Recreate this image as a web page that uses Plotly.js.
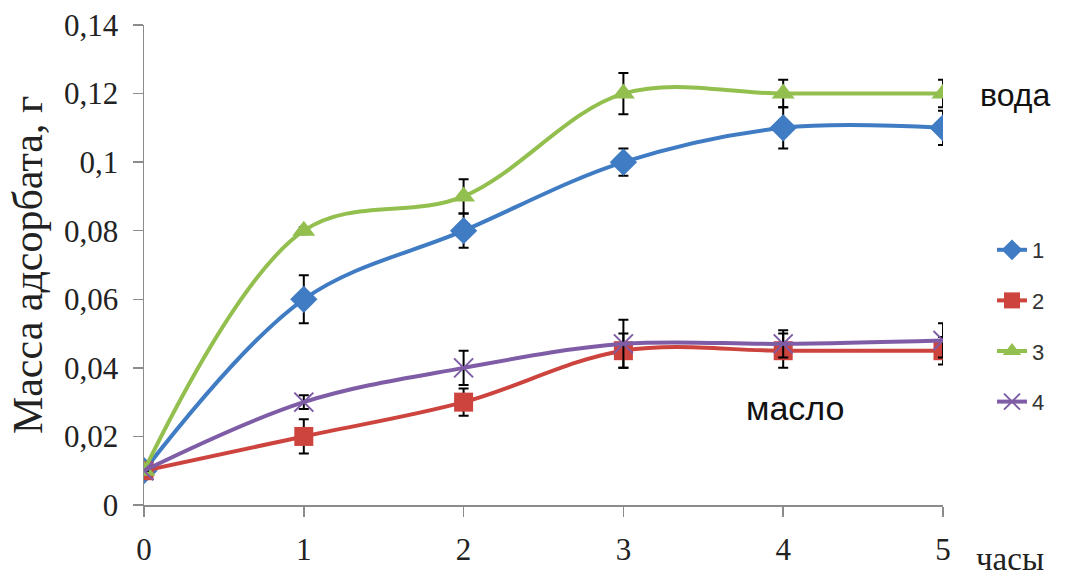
<!DOCTYPE html>
<html>
<head>
<meta charset="utf-8">
<script src="https://cdn.plot.ly/plotly-3.0.1.min.js"></script>
<style>
  html, body { margin: 0; padding: 0; background: #fff; }
  #chart { width: 1067px; height: 578px; }
</style>
</head>
<body>
<div id="chart"></div>
<script>
// Время, часы
const hours = [0, 1, 2, 3, 4, 5];

// Масса адсорбата, г — по образцам 1–4
const series1 = [0.010, 0.060, 0.080, 0.100, 0.110, 0.110];
const series2 = [0.010, 0.020, 0.030, 0.045, 0.045, 0.045];
const series3 = [0.010, 0.080, 0.090, 0.120, 0.120, 0.120];
const series4 = [0.010, 0.030, 0.040, 0.047, 0.047, 0.048];

// Погрешности
const err1 = [0, 0.007, 0.005, 0.004, 0.006, 0.005];
const err2 = [0, 0.005, 0.004, 0.005, 0.005, 0.004];
const err3 = [0, 0.001, 0.005, 0.006, 0.004, 0.004];
const err4 = [0, 0.002, 0.005, 0.007, 0.004, 0.005];

const names = ['1', '2', '3', '4'];
const yTicks = [0, 0.02, 0.04, 0.06, 0.08, 0.1, 0.12, 0.14];
const yTickText = ['0', '0,02', '0,04', '0,06', '0,08', '0,1', '0,12', '0,14'];

const SERIF = 'Times New Roman';
const SANS = 'Liberation Sans';

const colors = ['#3f7cc4', '#cd433e', '#93bf4f', '#7e5ca6'];
const symbols = ['diamond', 'square', 'triangle-up', 'x-thin'];
const sizes = [21, 19, 20, 19];

const ys = [series1, series2, series3, series4];
const errs = [err1, err2, err3, err4];

const traces = ys.map((y, i) => ({
  type: 'scatter',
  mode: 'lines+markers',
  x: hours,
  y: y,
  name: names[i],
  legendgroup: 'g' + i,
  line: { color: colors[i], width: 4, shape: 'spline', smoothing: 1 },
  marker: {
    symbol: symbols[i],
    size: sizes[i],
    color: colors[i],
    line: { color: colors[i], width: symbols[i] === 'x-thin' ? 2 : 0 }
  },
  error_y: {
    type: 'data',
    array: errs[i],
    visible: true,
    color: '#000',
    thickness: 2,
    width: 5
  }
}));

const L = 144, R = 943, T = 25, B = 505;
const px = v => (v - L) / (R - L);
const py = v => (B - v) / (B - T);

const layout = {
  width: 1067,
  height: 578,
  margin: { l: L, r: 1067 - R, t: T, b: 578 - B },
  paper_bgcolor: '#fff',
  plot_bgcolor: '#fff',
  font: { family: SERIF, size: 30, color: '#222' },
  showlegend: true,
  legend: {
    x: px(992), y: py(229), xanchor: 'left', yanchor: 'top',
    font: { family: SANS, size: 22, color: '#333' },
    traceorder: 'grouped',
    tracegroupgap: 19,
    bgcolor: 'rgba(0,0,0,0)'
  },
  xaxis: {
    range: [0, 5],
    tickvals: hours,
    ticks: 'outside',
    ticklen: 10,
    tickwidth: 1.5,
    tickcolor: '#8c8c8c',
    showline: true,
    linecolor: '#8c8c8c',
    linewidth: 1.5,
    showgrid: false,
    zeroline: false,
    ticklabelstandoff: 6,
    tickfont: { family: SERIF, size: 31, color: '#222' }
  },
  yaxis: {
    range: [0, 0.14],
    tickvals: yTicks,
    ticktext: yTickText,
    ticks: 'outside',
    ticklen: 10,
    tickwidth: 1.5,
    tickcolor: '#8c8c8c',
    showline: true,
    linecolor: '#8c8c8c',
    linewidth: 1.5,
    showgrid: false,
    zeroline: false,
    ticklabelstandoff: 8,
    tickfont: { family: SERIF, size: 31, color: '#222' },
    title: {
      text: 'Масса адсорбата, г',
      standoff: 8,
      font: { family: SERIF, size: 42, color: '#222' }
    }
  },
  annotations: [
    {
      text: 'вода', xref: 'paper', yref: 'paper', x: px(1015), y: py(95),
      xanchor: 'center', yanchor: 'middle', showarrow: false,
      font: { family: SANS, size: 32, color: '#111' }
    },
    {
      text: 'масло', xref: 'paper', yref: 'paper', x: px(795), y: py(408),
      xanchor: 'center', yanchor: 'middle', showarrow: false,
      font: { family: SANS, size: 34, color: '#111' }
    },
    {
      text: 'часы', xref: 'paper', yref: 'paper', x: px(1010), y: py(559),
      xanchor: 'center', yanchor: 'middle', showarrow: false,
      font: { family: SERIF, size: 33, color: '#222' }
    }
  ]
};

Plotly.newPlot('chart', traces, layout, { displayModeBar: false, staticPlot: true });
</script>
</body>
</html>
